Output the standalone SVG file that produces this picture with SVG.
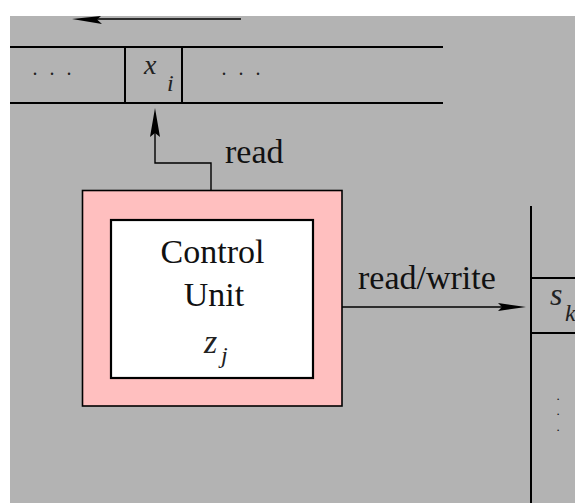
<svg xmlns="http://www.w3.org/2000/svg" width="575" height="503" viewBox="0 0 575 503">
  <style>
    .bg { fill: #b3b3b3; }
    .tape { stroke: #000; stroke-width: 2; fill: none; }
    .wire { stroke: #000; stroke-width: 1.4; fill: none; }
    .head { fill: #000; }
    text { font-family: "Liberation Serif", "DejaVu Serif", "Times New Roman", serif; }
    .lbl { font-size: 34px; fill: #111; }
    .math { font-style: italic; fill: #222; }
    .dots { font-size: 20px; fill: #222; letter-spacing: 12px; }
    .vdot { font-size: 13px; fill: #111; }
  </style>

  <rect x="0" y="0" width="575" height="503" fill="#fff"/>
  <rect class="bg" x="10" y="16" width="565" height="487"/>

  <!-- input tape -->
  <g id="input-tape">
    <line class="tape" x1="10" y1="47" x2="443" y2="47"/>
    <line class="tape" x1="10" y1="103" x2="443" y2="103"/>
    <line class="tape" x1="125" y1="47" x2="125" y2="103"/>
    <line class="tape" x1="182" y1="47" x2="182" y2="103"/>
    <text class="dots" x="32.5" y="75">...</text>
    <text class="dots" x="221.5" y="75">...</text>
    <text class="math" x="144" y="74" font-size="28">x</text>
    <text class="math" x="167" y="91" font-size="24">i</text>
  </g>

  <!-- control unit -->
  <g id="control-unit">
    <rect x="82.5" y="190.5" width="259.5" height="215.5" fill="#ffbfbf" stroke="#000" stroke-width="1.6"/>
    <rect x="111" y="220" width="202" height="158" fill="#fff" stroke="#000" stroke-width="2.2"/>
    <text class="lbl" x="212.5" y="263" text-anchor="middle">Control</text>
    <text class="lbl" x="214" y="306" text-anchor="middle">Unit</text>
    <text class="math" x="204" y="353" font-size="34">z</text>
    <text class="math" x="221" y="363" font-size="24">j</text>
  </g>

  <!-- work tape -->
  <g id="work-tape">
    <line class="tape" x1="531" y1="206" x2="531" y2="503"/>
    <line class="tape" x1="531" y1="278" x2="575" y2="278"/>
    <line class="tape" x1="531" y1="333" x2="575" y2="333"/>
    <text class="math" x="550" y="305" font-size="32">s</text>
    <text class="math" x="565" y="321" font-size="24">k</text>
    <text class="vdot" x="556.5" y="400">.</text>
    <text class="vdot" x="556.5" y="415">.</text>
    <text class="vdot" x="556.5" y="431">.</text>
  </g>

  <!-- connectors -->
  <g id="connectors">
    <line class="wire" x1="241" y1="19" x2="90" y2="19"/>
    <polygon class="head" points="72,19 101,16 97,19.5 102,24"/>

    <polyline class="wire" points="211,190 211,163 155,163 155,130"/>
    <polygon class="head" points="155,108 160,137 155,133 150,137"/>
    <text class="lbl" x="225" y="163">read</text>

    <line class="wire" x1="342" y1="307" x2="505" y2="307"/>
    <polygon class="head" points="526,307 498,303 502,307 498,311"/>
    <text class="lbl" x="358" y="289">read/write</text>
  </g>
</svg>
